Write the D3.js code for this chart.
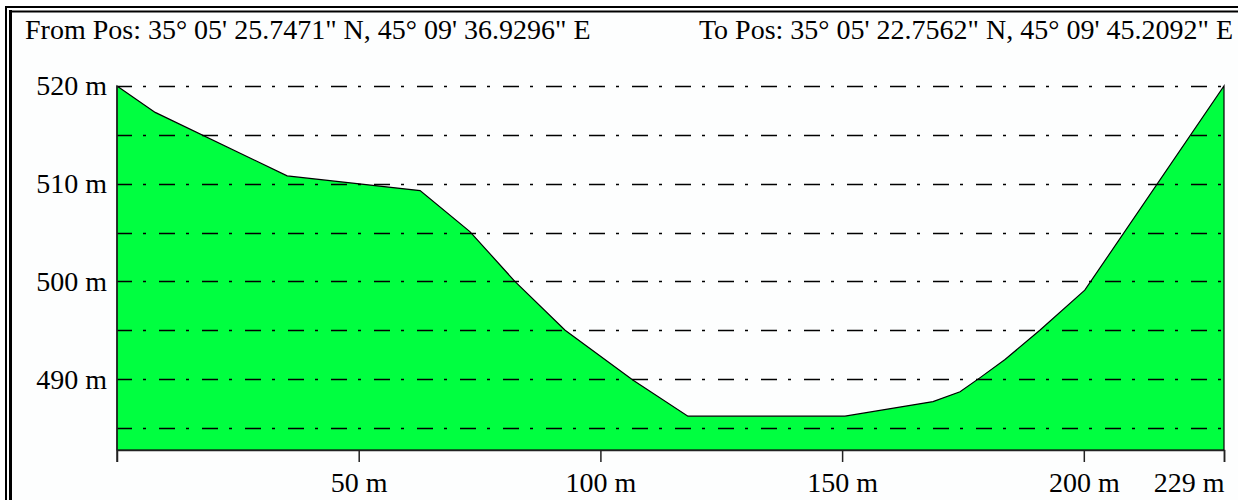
<!DOCTYPE html>
<html>
<head>
<meta charset="utf-8">
<script src="https://cdn.jsdelivr.net/npm/d3@7"></script>
<style>
  html, body { margin: 0; padding: 0; background: #ffffff; }
  svg { display: block; }
  text { font-family: "Liberation Serif", "Times New Roman", serif; fill: #000; }
</style>
</head>
<body>
<svg id="chart" width="1238" height="500"></svg>
<script>
// ---- data ----
const distances  = [0, 7.9, 35.2, 62.7, 73.0, 82.3, 92.7, 106.7, 118.1, 150.6, 168.8, 174.4, 178.7, 183.7, 190.9, 200.2, 229];
const elevations = [520, 517.3, 510.8, 509.3, 505.1, 500.0, 495.0, 489.9, 486.2, 486.2, 487.7, 488.7, 490.2, 492.0, 495.0, 499.1, 520];
const xTickValues = [50, 100, 150, 200, 229];
const yTickValues = [490, 500, 510, 520];
const gridValues  = [485, 490, 495, 500, 505, 510, 515, 520];
const fromLabel = "From Pos: 35° 05' 25.7471\" N, 45° 09' 36.9296\" E";
const toLabel   = "To Pos: 35° 05' 22.7562\" N, 45° 09' 45.2092\" E";
const xDomain = [0, 229];
const yDomain = [482.74, 520];

const svg = d3.select("#chart");
const W = 1238, H = 500;
const plot = { left: 117, right: 1224, top: 86, bottom: 450 };
const FS = 28;

const x = d3.scaleLinear().domain(xDomain).range([plot.left, plot.right]);
const y = d3.scaleLinear().domain(yDomain).range([plot.bottom, plot.top]);

// inner background
svg.append("rect").attr("x", 12).attr("y", 12).attr("width", W).attr("height", H)
  .attr("fill", "#fdfefe");

// double frame
svg.append("line").attr("x1", 6).attr("x2", 6).attr("y1", 6).attr("y2", H + 10)
  .attr("stroke", "#000").attr("stroke-width", 2);
svg.append("line").attr("x1", 5).attr("x2", W + 10).attr("y1", 7).attr("y2", 7)
  .attr("stroke", "#000").attr("stroke-width", 2);
svg.append("line").attr("x1", 10.5).attr("x2", 10.5).attr("y1", 10).attr("y2", H + 10)
  .attr("stroke", "#000").attr("stroke-width", 3);
svg.append("line").attr("x1", 9).attr("x2", W + 10).attr("y1", 11.5).attr("y2", 11.5)
  .attr("stroke", "#000").attr("stroke-width", 2);

// header
svg.append("text").attr("x", 25).attr("y", 39).attr("font-size", FS).text(fromLabel);
svg.append("text").attr("x", 1233).attr("y", 39).attr("font-size", FS)
  .attr("text-anchor", "end").text(toLabel);

// profile area
const pts = distances.map((d, i) => [d, elevations[i]]);
const area = d3.area()
  .x(d => x(d[0]))
  .y0(y(yDomain[0]))
  .y1(d => y(d[1]));
svg.append("path").datum(pts)
  .attr("d", area)
  .attr("fill", "#00ff40")
  .attr("stroke", "#000")
  .attr("stroke-width", 1.2)
  .attr("stroke-linejoin", "miter");

// dash-dot grid lines
svg.append("g").selectAll("line").data(gridValues).join("line")
  .attr("x1", plot.left).attr("x2", plot.right)
  .attr("y1", d => Math.round(y(d)) + 0.5).attr("y2", d => Math.round(y(d)) + 0.5)
  .attr("stroke", "#000").attr("stroke-width", 1.3)
  .attr("stroke-dasharray", "16,11,3,13")
  .attr("stroke-dashoffset", 1);

// x axis
const xAxis = d3.axisBottom(x).tickValues(xTickValues).tickSize(12).tickPadding(10)
  .tickFormat(d => d + " m");
const gx = svg.append("g").attr("transform", `translate(0,${plot.bottom})`).call(xAxis);
gx.select(".domain").attr("stroke", "#222").attr("stroke-width", 1.5);
gx.selectAll(".tick line").attr("stroke", "#222").attr("stroke-width", 1.5);
gx.selectAll(".tick text").attr("font-size", FS).attr("font-family", "Liberation Serif")
  .attr("fill", "#000").attr("dy", "0.71em");
gx.selectAll(".tick text").filter(d => d === 229).attr("text-anchor", "end");

// y axis
const yAxis = d3.axisLeft(y).tickValues(yTickValues).tickSize(0).tickPadding(10)
  .tickFormat(d => d + " m");
const gy = svg.append("g").attr("transform", `translate(${plot.left},0)`).call(yAxis);
gy.select(".domain").remove();
gy.selectAll(".tick text").attr("font-size", FS).attr("font-family", "Liberation Serif")
  .attr("fill", "#000");

// left axis line (extends below as tick)
svg.append("line").attr("x1", plot.left).attr("x2", plot.left)
  .attr("y1", plot.top).attr("y2", plot.bottom + 12)
  .attr("stroke", "#222").attr("stroke-width", 1.5);
</script>
</body>
</html>
